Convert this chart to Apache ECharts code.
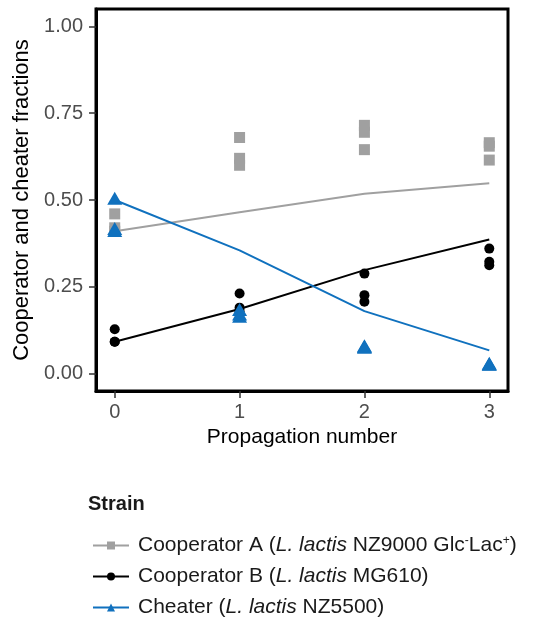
<!DOCTYPE html>
<html>
<head>
<meta charset="utf-8">
<script src="https://cdn.jsdelivr.net/npm/echarts@6/dist/echarts.min.js"></script>
<style>
html,body{margin:0;padding:0;background:#fff;}
#chart{width:544px;height:635px;}
</style>
</head>
<body>
<div id="chart"></div>
<script>
// ---- data ----
const propagation = [0, 1, 2, 3];
const yTicks = [0, 0.25, 0.5, 0.75, 1.0];
const seriesNames = ['Cooperator A', 'Cooperator B', 'Cheater'];

const coopAFit = [0.410, 0.465, 0.518, 0.548];
const coopBFit = [0.092, 0.186, 0.298, 0.386];
const cheaterFit = [0.500, 0.355, 0.180, 0.067];

const replicateX = [0, 0, 0, 1, 1, 1, 2, 2, 2, 3, 3, 3];
const coopAObs = [0.460, 0.420, 0.410, 0.680, 0.620, 0.600, 0.715, 0.695, 0.645, 0.665, 0.655, 0.615];
const coopBObs = [0.128, 0.092, 0.092, 0.231, 0.190, 0.180, 0.288, 0.226, 0.207, 0.360, 0.322, 0.312];
const cheaterObs = [0.505, 0.418, 0.412, 0.185, 0.172, 0.165, 0.080, 0.078, 0.076, 0.030, 0.028, 0.027];

// ---- build ----
const pair = (xs, ys) => xs.map((x, i) => [x, ys[i]]);
const gray = '#a0a0a0', black = '#000000', blue = '#1071be';
const font = 'Liberation Sans, Arial, sans-serif';

const chart = echarts.init(document.getElementById('chart'), null, {renderer: 'canvas'});

function fitLine(name, data, color, symbol) {
  return {
    name, type: 'line', data, symbol, showSymbol: false, symbolSize: 8,
    lineStyle: {color, width: 2}, itemStyle: {color}, z: 3, silent: true,
    animation: false
  };
}
function points(name, data, color, symbol, size, z) {
  return {
    name, type: 'scatter', data, symbol, symbolSize: size,
    itemStyle: {color, opacity: 1}, z, animation: false
  };
}

const legendLabels = {
  'Cooperator A': 'Cooperator A ({i|L. lactis} NZ9000 Glc{sup|-}Lac{sup|+})',
  'Cooperator B': 'Cooperator B ({i|L. lactis} MG610)',
  'Cheater': 'Cheater ({i|L. lactis} NZ5500)'
};

chart.setOption({
  backgroundColor: '#ffffff',
  animation: false,
  textStyle: {fontFamily: font},
  title: {
    text: 'Strain', left: 83, top: 489,
    textStyle: {fontSize: 20, fontWeight: 'bold', color: '#1a1a1a', fontFamily: font}
  },
  legend: {
    data: seriesNames,
    orient: 'vertical', left: 87, top: 530,
    itemWidth: 36, itemHeight: 10, itemGap: 10,
    formatter: n => legendLabels[n],
    textStyle: {
      fontSize: 21, color: '#1a1a1a', fontFamily: font, padding: [0, 0, 0, 4],
      rich: {
        i: {fontSize: 21, fontStyle: 'italic', color: '#1a1a1a', fontFamily: font},
        sup: {fontSize: 12, color: '#1a1a1a', verticalAlign: 'top', fontFamily: font}
      }
    },
    selectedMode: false
  },
  grid: {
    left: 96, right: 36, top: 9, bottom: 244,
    show: true, borderColor: '#000', borderWidth: 3, backgroundColor: 'transparent',
    containLabel: false
  },
  xAxis: {
    type: 'value', min: -0.15, max: 3.15, position: 'bottom',
    name: 'Propagation number', nameLocation: 'middle', nameGap: 36,
    nameTextStyle: {fontSize: 21, color: '#000', fontFamily: font},
    axisLine: {show: true, onZero: false, lineStyle: {color: '#000', width: 3}},
    axisTick: {show: true, length: 7, inside: false, lineStyle: {color: '#333333', width: 1.5}, customValues: propagation},
    axisLabel: {fontSize: 20, color: '#4d4d4d', margin: 11, customValues: propagation, formatter: v => String(v)},
    splitLine: {show: false},
    z: 10
  },
  yAxis: {
    type: 'value', min: -0.05, max: 1.05, position: 'left',
    name: 'Cooperator and cheater fractions', nameLocation: 'middle', nameGap: 60, nameRotate: 90,
    nameTextStyle: {fontSize: 22, color: '#000', fontFamily: font},
    axisLine: {show: true, onZero: false, lineStyle: {color: '#000', width: 3}},
    axisTick: {show: true, length: 7, inside: false, lineStyle: {color: '#333333', width: 1.5}, customValues: yTicks},
    axisLabel: {fontSize: 20, color: '#4d4d4d', margin: 13, customValues: yTicks, formatter: v => v.toFixed(2)},
    splitLine: {show: false},
    z: 10
  },
  series: [
    fitLine('Cooperator A', pair(propagation, coopAFit), gray, 'rect'),
    fitLine('Cooperator B', pair(propagation, coopBFit), black, 'circle'),
    fitLine('Cheater', pair(propagation, cheaterFit), blue, 'triangle'),
    points('Cooperator A', pair(replicateX, coopAObs), gray, 'rect', 11, 2),
    points('Cooperator B', pair(replicateX, coopBObs), black, 'circle', 10, 4),
    points('Cheater', pair(replicateX, cheaterObs), blue, 'triangle', [15, 13], 5)
  ]
});
</script>
</body>
</html>
